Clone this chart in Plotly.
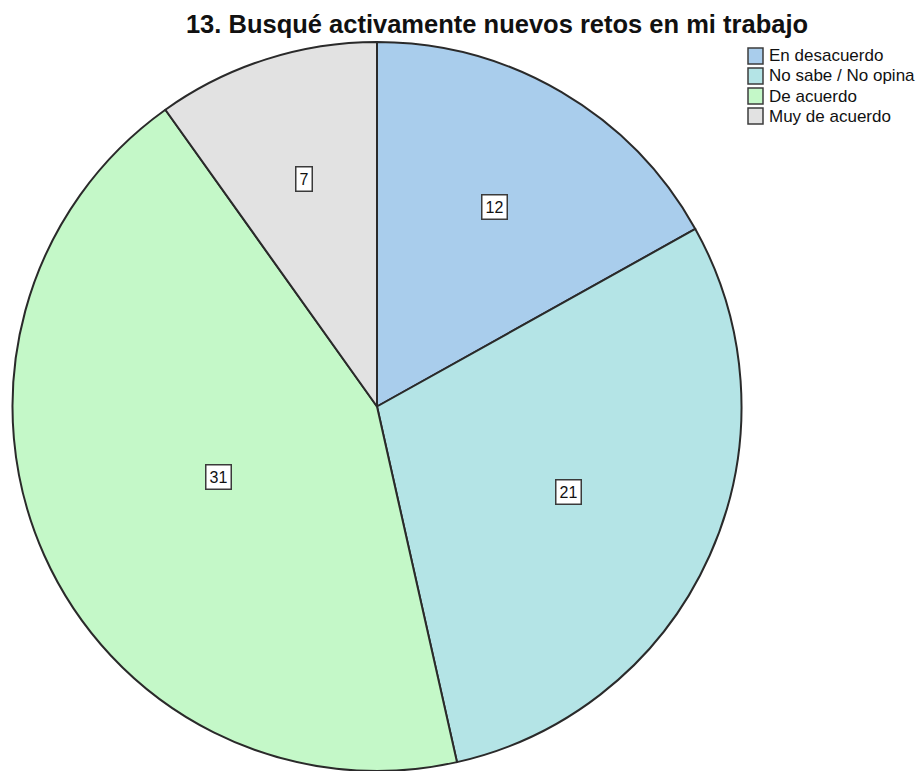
import math
import plotly.graph_objects as go

# Survey responses for item 13
categories = ["En desacuerdo", "No sabe / No opina", "De acuerdo", "Muy de acuerdo"]
counts = [12, 21, 31, 7]
colors = ["#a9cdec", "#b4e4e6", "#c4f8c8", "#e2e2e2"]

title_text = "13. Busqué activamente nuevos retos en mi trabajo"

W, H = 917, 771
FONT = "Liberation Sans, Arial, sans-serif"
EDGE = "#2a2a2a"

# pie placement (paper fractions)
dom_x = [11 / W, 743 / W]
dom_y = [0.0, 729 / H]

fig = go.Figure()
fig.add_trace(go.Pie(
    labels=categories,
    values=counts,
    marker=dict(colors=colors, line=dict(color=EDGE, width=2)),
    sort=False,
    direction="clockwise",
    rotation=0,
    textinfo="none",
    hoverinfo="label+value",
    showlegend=False,
    domain=dict(x=dom_x, y=dom_y),
))

# value labels placed at each slice's centroid
cx_px = (dom_x[0] + dom_x[1]) / 2 * W
cy_px = H - (dom_y[0] + dom_y[1]) / 2 * H
radius_px = min((dom_x[1] - dom_x[0]) * W, (dom_y[1] - dom_y[0]) * H) / 2
total = sum(counts)
start = 0.0
annotations = []
for c in counts:
    theta = 2 * math.pi * c / total
    mid = start + theta / 2
    dist = 4 * radius_px * math.sin(theta / 2) / (3 * theta)
    px = cx_px + dist * math.sin(mid)
    py = cy_px - dist * math.cos(mid)
    annotations.append(dict(
        x=px / W, y=1 - py / H, xref="paper", yref="paper",
        xanchor="center", yanchor="middle",
        text=str(c), showarrow=False,
        font=dict(family=FONT, size=16, color="#111111"),
        bgcolor="#ffffff", bordercolor="#3a3a3a", borderwidth=1.5, borderpad=3,
    ))
    start += theta

# legend: swatch + label per category, stacked from the top right
shapes = []
leg_x0, leg_y0, row_h, sw_w, sw_h = 748, 48, 20, 15, 16
for i, (name, col) in enumerate(zip(categories, colors)):
    top = leg_y0 + i * row_h
    shapes.append(dict(
        type="rect", xref="paper", yref="paper",
        x0=leg_x0 / W, x1=(leg_x0 + sw_w) / W,
        y0=1 - (top + sw_h) / H, y1=1 - top / H,
        fillcolor=col, line=dict(color="#3c3c3c", width=1.5),
    ))
    annotations.append(dict(
        x=(leg_x0 + sw_w + 4) / W, y=1 - (top + sw_h / 2) / H,
        xref="paper", yref="paper", xanchor="left", yanchor="middle",
        text=name, showarrow=False,
        font=dict(family=FONT, size=17, color="#111111"),
    ))

fig.update_layout(
    width=W, height=H,
    margin=dict(l=0, r=0, t=0, b=0),
    paper_bgcolor="#ffffff",
    plot_bgcolor="#ffffff",
    title=dict(
        text="<b>" + title_text + "</b>",
        x=497 / W, xanchor="center", y=1 - 24 / H, yanchor="middle",
        font=dict(family=FONT, size=25.5, color="#111111"),
    ),
    showlegend=False,
    shapes=shapes,
    annotations=annotations,
)

fig.write_html("out.html")
